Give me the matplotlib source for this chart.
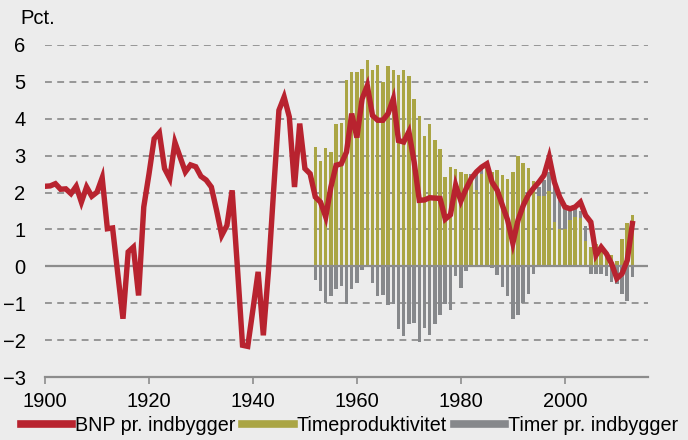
import numpy as np
import matplotlib
matplotlib.use("Agg")
import matplotlib.pyplot as plt
from matplotlib.lines import Line2D

# BNP pr. indbygger (pct.), 1900-2013
years_line = np.arange(1900, 2014)
bnp = [
    2.17, 2.18, 2.24, 2.09, 2.10, 1.97, 2.17, 1.74, 2.15, 1.90,   # 1900-1909
    2.01, 2.40, 1.02, 1.04, -0.20, -1.42, 0.39, 0.52, -0.79, 1.61,  # 1910-1919
    2.50, 3.46, 3.62, 2.65, 2.38, 3.36, 2.96, 2.56, 2.75, 2.70,   # 1920-1929
    2.44, 2.34, 2.15, 1.52, 0.84, 1.11, 2.06, 0.00, -2.14, -2.17,  # 1930-1939
    -1.17, -0.15, -1.87, -0.10, 2.10, 4.23, 4.59, 4.05, 2.15, 3.87,  # 1940-1949
    2.65, 2.51, 1.88, 1.74, 1.34, 2.15, 2.74, 2.78, 3.10, 4.14,   # 1950-1959
    3.49, 4.54, 4.90, 4.09, 3.96, 3.96, 4.14, 4.54, 3.41, 3.37,   # 1960-1969
    3.65, 2.84, 1.79, 1.80, 1.86, 1.85, 1.84, 1.28, 1.40, 2.20,   # 1970-1979
    1.77, 2.10, 2.38, 2.56, 2.69, 2.78, 2.28, 2.06, 1.65, 1.25,   # 1980-1989
    0.63, 1.25, 1.65, 1.94, 2.12, 2.28, 2.47, 2.96, 2.28, 1.88,   # 1990-1999
    1.61, 1.56, 1.61, 1.74, 1.38, 1.20, 0.30, 0.52, 0.34, 0.07,   # 2000-2009
    -0.33, -0.20, 0.16, 1.16,                                      # 2010-2013
]

# Timeproduktivitet and Timer pr. indbygger, 1952-2013
years_bar = np.arange(1952, 2014)
timeprod = [
    3.23, 2.85, 3.22, 3.11, 3.87, 3.88, 5.06, 5.27,               # 1952-1959
    5.28, 5.36, 5.60, 5.31, 5.45, 4.99, 5.42, 5.31, 5.20, 5.31,   # 1960-1969
    5.15, 4.53, 4.07, 3.53, 3.85, 3.43, 3.18, 2.42, 2.70, 2.63,   # 1970-1979
    2.56, 2.51, 2.45, 2.06, 2.51, 2.70, 2.55, 2.60, 2.47, 2.38,   # 1980-1989
    2.55, 2.98, 2.80, 2.67, 2.30, 1.90, 1.90, 2.05, 1.20, 1.00,   # 1990-1999
    1.00, 1.25, 1.35, 1.30, 0.70, 0.52, 0.60, 0.52, 0.39, 0.30,   # 2000-2009
    0.15, 0.75, 1.17, 1.38,                                        # 2010-2013
]
timer = [
    -0.36, -0.67, -0.99, -0.81, -0.61, -0.54, -1.01, -0.61,        # 1952-1959
    -0.45, -0.09, -0.02, -0.44, -0.81, -0.79, -1.06, -1.02, -1.69, -1.90,  # 1960-1969
    -1.57, -1.54, -2.05, -1.66, -1.87, -1.57, -1.33, -1.02, -1.19, -0.27,  # 1970-1979
    -0.58, -0.13, 0.05, 0.48, 0.14, -0.03, -0.05, -0.24, -0.56, -0.80,     # 1980-1989
    -1.42, -1.33, -0.99, -0.74, -0.20, 0.25, 0.45, 0.50, 1.10, 0.80,       # 1990-1999
    0.65, 0.30, 0.20, 0.20, 0.40, -0.20, -0.22, -0.20, -0.25, -0.42,       # 2000-2009
    -0.47, -0.76, -0.94, -0.29,                                            # 2010-2013
]

labels = ["BNP pr. indbygger", "Timeproduktivitet", "Timer pr. indbygger"]

red = "#B8232F"
olive = "#AAA544"
grey = "#86888B"
bg = "#ECECEC"

plt.rcParams["font.family"] = ["Liberation Sans", "DejaVu Sans"]

fig = plt.figure(figsize=(6.88, 4.40), dpi=100, facecolor=bg)
ax = fig.add_axes([45 / 688, 63 / 440, 603 / 688, 332 / 440])
ax.set_facecolor(bg)

# gridlines
for v in [-2, -1, 1, 2, 3, 4, 5, 6]:
    ax.axhline(v, color="#7F7F7F", lw=1.1, ls=(0, (4.5, 3.5)), zorder=0)

# stacked bars: positive hours stack on top of productivity
tp = np.array(timeprod)
tm = np.array(timer)
ax.bar(years_bar, tp, width=0.68, color=olive, zorder=2)
ax.bar(years_bar, tm, width=0.68, bottom=np.where(tm > 0, tp, 0), color=grey, zorder=2)

ax.axhline(0, color="#8C8C8C", lw=1.6, zorder=3)

ax.plot(years_line, bnp, color=red, lw=3.9, solid_joinstyle="miter", zorder=4)

ax.set_xlim(1900, 2016)
ax.set_ylim(-3, 6)
ax.set_xticks(np.arange(1900, 2001, 20))
ax.set_yticks(np.arange(-3, 7, 1))
for s in ["top", "right", "left"]:
    ax.spines[s].set_visible(False)
ax.spines["bottom"].set_color("#8C8C8C")
ax.spines["bottom"].set_linewidth(1.6)
ax.tick_params(axis="x", direction="out", length=5, width=1.2, color="#8C8C8C",
               labelsize=14.5, pad=6)
ax.tick_params(axis="y", length=0, labelsize=14.5, pad=14)

fig.text(20 / 688, 1 - 24 / 440, "Pct.", fontsize=14.5)

handles = [Line2D([], [], color=c, lw=5.5) for c in [red, olive, grey]]
fig.legend(handles, labels, loc="lower center", bbox_to_anchor=(0.508, -0.015), ncol=3,
           frameon=False, fontsize=14.2, handlelength=2.6, handletextpad=0.15,
           columnspacing=0.35, borderaxespad=0.2)

fig.savefig("out.png", dpi=100, facecolor=bg)
